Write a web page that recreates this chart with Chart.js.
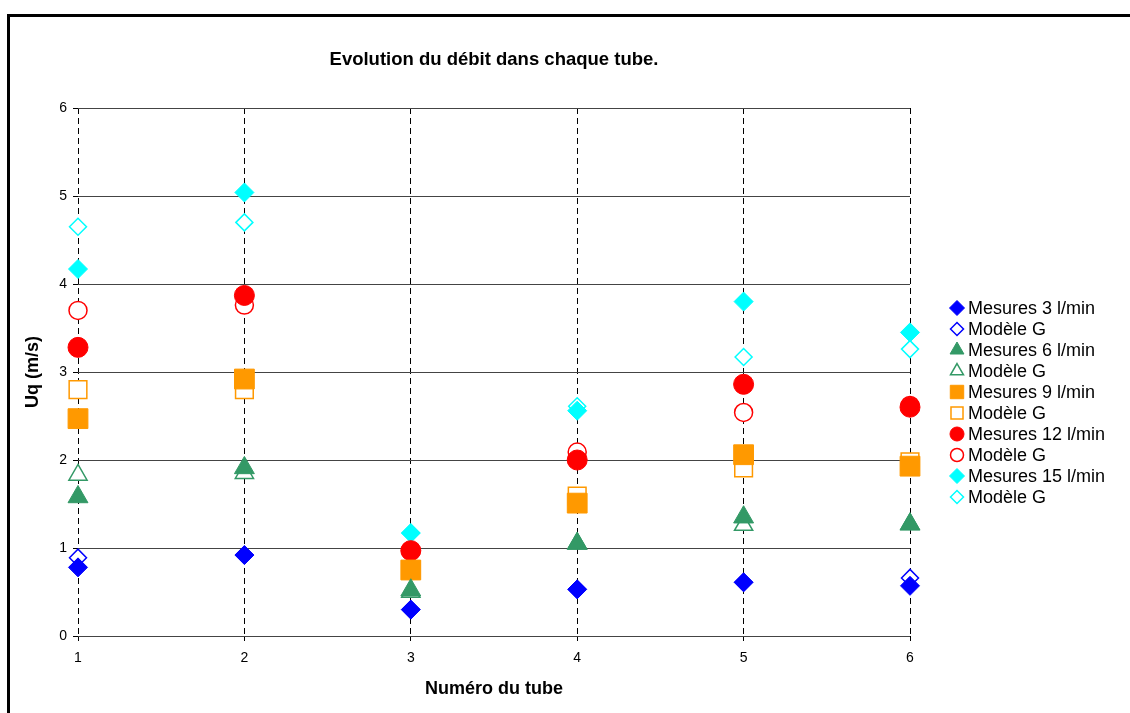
<!DOCTYPE html>
<html>
<head>
<meta charset="utf-8">
<script src="https://cdn.jsdelivr.net/npm/chart.js@4/dist/chart.umd.min.js"></script>
<style>
  html, body { margin: 0; padding: 0; background: #fff; }
  #wrap { width: 1130px; height: 713px; position: relative; }
</style>
</head>
<body>
<div id="wrap"><canvas id="c" width="1130" height="713"></canvas></div>
<script>
/* Evolution du débit dans chaque tube */

const FONT = '"Liberation Sans", Arial, sans-serif';

const tubes = [1, 2, 3, 4, 5, 6];
const mesures3 = [0.78, 0.92, 0.30, 0.53, 0.61, 0.57];
const modele3 = [0.89, 0.92, 0.30, 0.53, 0.61, 0.66];
const mesures6 = [1.58, 1.91, 0.52, 1.05, 1.35, 1.27];
const modele6 = [1.83, 1.85, 0.50, 1.05, 1.26, 1.27];
const mesures9 = [2.47, 2.92, 0.75, 1.51, 2.06, 1.93];
const modele9 = [2.80, 2.80, 0.75, 1.59, 1.91, 1.98];
const mesures12 = [3.28, 3.87, 0.97, 2.00, 2.86, 2.60];
const modele12 = [3.70, 3.76, 0.97, 2.09, 2.54, 2.62];
const mesures15 = [4.17, 5.04, 1.17, 2.56, 3.80, 3.45];
const modele15 = [4.65, 4.70, 1.17, 2.61, 3.17, 3.26];

const xTicks = [1, 2, 3, 4, 5, 6];
const yTicks = [0, 1, 2, 3, 4, 5, 6];

const BLUE = '#0000FF';
const GREEN = '#339966';
const ORANGE = '#FF9900';
const RED = '#FF0000';
const CYAN = '#00FFFF';

function pts(vals) {
  return tubes.map((t, i) => ({ x: t, y: vals[i] }));
}

// [label, data, couleur, style, rayon, plein, rayon légende]
const series = [
  ['Mesures 3 l/min', mesures3, BLUE, 'rectRot', 9.5, true, 7.5],
  ['Modèle G', modele3, BLUE, 'rectRot', 8.5, false, 6.5],
  ['Mesures 6 l/min', mesures6, GREEN, 'triangle', 11.5, true, 8],
  ['Modèle G', modele6, GREEN, 'triangle', 10.5, false, 7.5],
  ['Mesures 9 l/min', mesures9, ORANGE, 'rect', 14, true, 9.5],
  ['Modèle G', modele9, ORANGE, 'rect', 12.5, false, 8.5],
  ['Mesures 12 l/min', mesures12, RED, 'circle', 10, true, 7],
  ['Modèle G', modele12, RED, 'circle', 9, false, 6.5],
  ['Mesures 15 l/min', mesures15, CYAN, 'rectRot', 9.5, true, 7.5],
  ['Modèle G', modele15, CYAN, 'rectRot', 8.5, false, 6.5],
];

const datasets = series.map(([label, vals, color, style, r, filled]) => ({
  label,
  data: pts(vals),
  pointStyle: style,
  pointRadius: r,
  pointHoverRadius: r,
  backgroundColor: filled ? color : '#FFFFFF',
  borderColor: color,
  borderWidth: filled ? 1 : 1.5,
  showLine: false,
  clip: false,
}));

function marker(ctx, style, x, y, r, color, filled) {
  ctx.save();
  ctx.fillStyle = filled ? color : '#FFFFFF';
  ctx.strokeStyle = color;
  ctx.lineWidth = filled ? 1 : 1.5;
  if (Chart.helpers && Chart.helpers.drawPoint) {
    Chart.helpers.drawPoint(ctx, { pointStyle: style, radius: r, rotation: 0, borderWidth: ctx.lineWidth }, x, y);
  }
  ctx.restore();
}

const decor = {
  id: 'decor',
  beforeDraw(chart) {
    const ctx = chart.ctx;
    ctx.save();
    ctx.fillStyle = '#FFFFFF';
    ctx.fillRect(0, 0, chart.width, chart.height);
    ctx.fillStyle = '#000000';
    ctx.fillRect(7, 14, chart.width, 3);
    ctx.fillRect(7, 14, 3, chart.height);
    ctx.restore();
  },
  afterDraw(chart) {
    const ctx = chart.ctx;
    ctx.save();
    ctx.font = '18px ' + FONT;
    ctx.textBaseline = 'middle';
    ctx.textAlign = 'left';
    series.forEach(([label, , color, style, , filled, lr], i) => {
      const y = 308 + i * 21;
      marker(ctx, style, 957, y, lr, color, filled);
      ctx.fillStyle = '#000000';
      ctx.fillText(label, 968, y + 1);
    });
    ctx.restore();
  },
};

new Chart(document.getElementById('c'), {
  type: 'scatter',
  data: { datasets },
  plugins: [decor],
  options: {
    responsive: false,
    animation: false,
    events: [],
    layout: { padding: { left: 10, top: 20, right: 220, bottom: 0 } },
    plugins: {
      legend: { display: false },
      tooltip: { enabled: false },
      title: {
        display: true,
        fullSize: false,
        text: 'Evolution du débit dans chaque tube.',
        color: '#000000',
        font: { family: FONT, size: 18.5, weight: 'bold' },
        padding: { top: 29, bottom: 36.8 },
      },
    },
    scales: {
      x: {
        type: 'linear',
        min: 1,
        max: 6,
        afterBuildTicks(scale) { scale.ticks = xTicks.map(v => ({ value: v })); },
        afterFit(scale) { scale.height = 77; },
        grid: { color: '#000000', lineWidth: 1, tickLength: 5, tickColor: '#000000', tickBorderDash: [] },
        border: { display: false, dash: [6, 4] },
        ticks: { color: '#000000', font: { family: FONT, size: 14 }, padding: 9, maxRotation: 0 },
        title: {
          display: true,
          text: 'Numéro du tube',
          color: '#000000',
          font: { family: FONT, size: 18, weight: 'bold' },
          padding: { top: 0, bottom: 13 },
        },
      },
      y: {
        min: 0,
        max: 6,
        afterBuildTicks(scale) { scale.ticks = yTicks.map(v => ({ value: v })); },
        afterFit(scale) { scale.width = 68; },
        grid: { color: '#444444', lineWidth: 1, tickLength: 5, tickColor: '#000000' },
        border: { display: false },
        ticks: { color: '#000000', font: { family: FONT, size: 14 }, padding: 6 },
        title: {
          display: true,
          text: 'Uq (m/s)',
          color: '#000000',
          font: { family: FONT, size: 18, weight: 'bold' },
          padding: { top: 12, bottom: 0 },
        },
      },
    },
  },
});
</script>
</body>
</html>
